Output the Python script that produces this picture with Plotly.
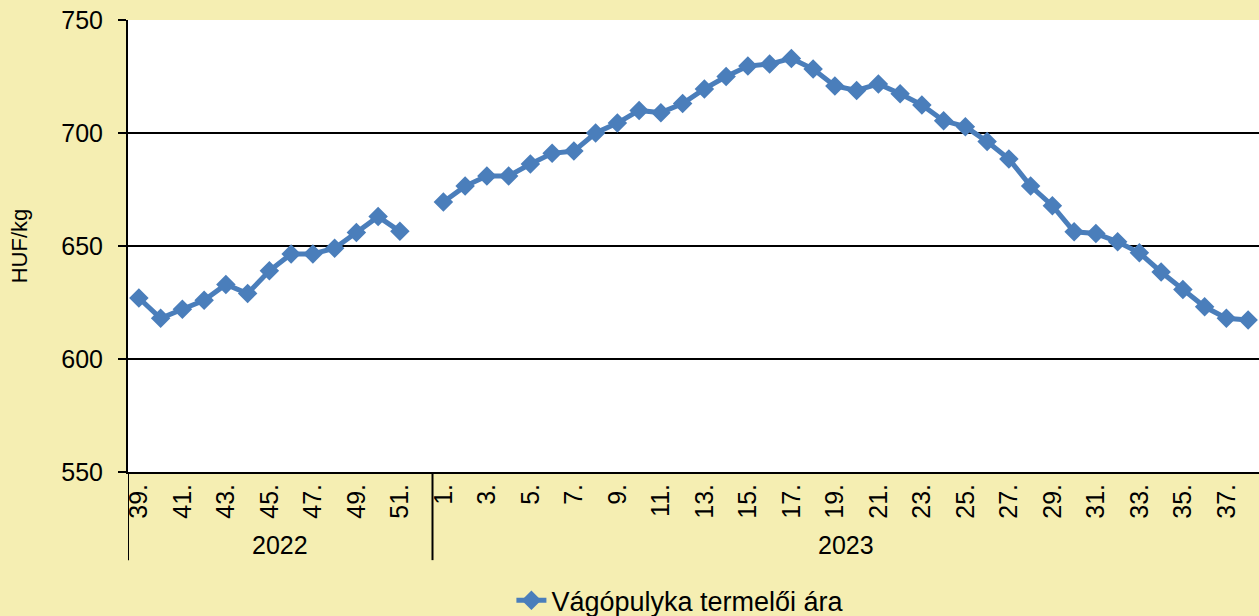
import plotly.graph_objects as go

weeks_2022 = [39, 40, 41, 42, 43, 44, 45, 46, 47, 48, 49, 50, 51, 52]
prices_2022 = [627, 618, 622, 626, 633, 629, 639, 646.5, 646.5, 649, 656, 663, 656.5, None]
weeks_2023 = list(range(1, 39))
prices_2023 = [669.5, 676.5, 681, 681, 686.3, 691, 692, 700, 704.4, 710,
               709, 713, 719.5, 725, 729.6, 730.5, 733, 728.3, 720.8, 718.8,
               721.7, 717.4, 712.4, 705.4, 702.8, 696.2, 688.5, 676.5, 667.8, 656.3,
               655.5, 651.9, 647, 638.5, 630.8, 623.1, 618, 617.3]
years = ["2022", "2023"]
series_name = "Vágópulyka termelői ára"
y_title = "HUF/kg"

cats = [f"{years[0]}-{w}" for w in weeks_2022] + [f"{years[1]}-{w}" for w in weeks_2023]
vals = prices_2022 + prices_2023
week_labels = [f"{w}." for w in weeks_2022] + [f"{w}." for w in weeks_2023]

tickvals = [c for i, c in enumerate(cats) if int(c.split("-")[1]) % 2 == 1]
ticktext = [week_labels[i] for i, c in enumerate(cats) if int(c.split("-")[1]) % 2 == 1]

blue = "#4A7EBB"
font = "Liberation Sans, Arial, sans-serif"
fs = 25

fig = go.Figure()
fig.add_trace(go.Scatter(
    x=cats, y=vals, mode="lines+markers", name=series_name,
    line=dict(color=blue, width=5),
    marker=dict(symbol="diamond", size=15, color=blue),
    connectgaps=False,
))

n22 = len(weeks_2022)
n = len(cats)
# group dividers
for xpos in [-0.5, n22 - 0.5]:
    fig.add_shape(type="line", xref="x", yref="paper", x0=xpos, x1=xpos,
                  y0=0, y1=-0.195, line=dict(color="black", width=2))
# year labels
for label, center in [(years[0], (n22 - 1) / 2), (years[1], (n22 + n - 1) / 2)]:
    fig.add_annotation(x=center, y=-0.1615, xref="x", yref="paper", text=label,
                       showarrow=False, yanchor="middle",
                       font=dict(size=fs, color="black", family=font))

fig.update_layout(
    width=1259, height=616,
    paper_bgcolor="#F5EEB2", plot_bgcolor="white",
    margin=dict(l=128, r=0, t=20, b=144, autoexpand=False),
    font=dict(family=font, size=fs, color="black"),
    showlegend=True,
    legend=dict(orientation="h", x=0.339, xanchor="left", y=-0.285, yanchor="middle",
                bgcolor="rgba(0,0,0,0)", font=dict(size=27)),
    xaxis=dict(type="category", categoryorder="array", categoryarray=cats,
               range=[-0.5, n - 0.5], tickvals=tickvals, ticktext=ticktext,
               tickangle=-90, showgrid=False, showline=True, linecolor="black",
               linewidth=2, ticks="", tickfont=dict(size=fs), automargin=False),
    yaxis=dict(range=[550, 750], dtick=50, showgrid=True, gridcolor="black", gridwidth=2,
               showline=True, linecolor="black", linewidth=2, ticks="outside",
               ticklen=8, tickwidth=2, tickcolor="black", zeroline=False,
               tickfont=dict(size=fs), ticklabelstandoff=10, automargin=False,
               title=dict(text=y_title, font=dict(size=22), standoff=28)),
)

fig.write_html("out.html", config={"displayModeBar": False},
               post_script="document.body.style.margin='0';")
